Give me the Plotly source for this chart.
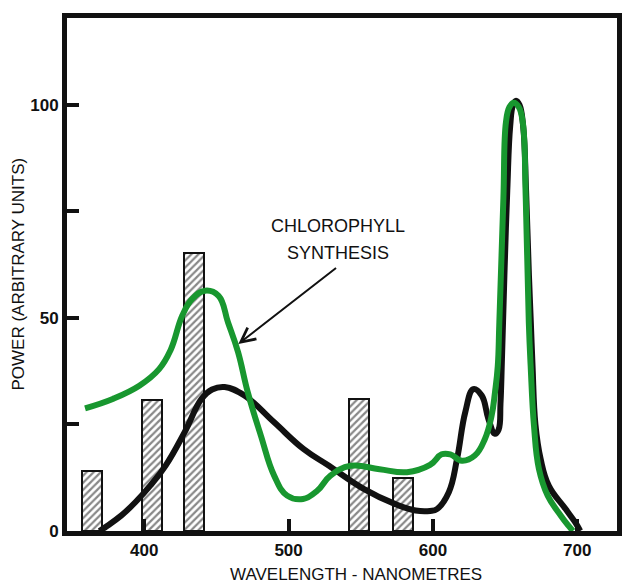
import plotly.graph_objects as go

# Hatched bars (mercury lines)
bar_wl = [364, 405.5, 434.3, 549, 579.5]
bar_power = [14, 30.8, 65.2, 31, 12.5]

# Chlorophyll synthesis curve (green)
green_wl = [359, 378.2, 396.6, 410.3, 418.3, 426.3, 433.2, 442.3,
            451.5, 458, 465, 471.7, 480.8, 490, 499, 510, 520, 529, 543, 563, 582, 598,
            606, 612, 620, 629, 636, 640.6, 643, 644.9, 646, 648.8, 650.6, 653, 656,
            659.5, 662.2, 664.3, 666.4, 667.7, 670, 673.4, 679.5, 688.6, 694, 697]
green_power = [28.8, 31, 34.1, 38, 42.5, 50.5, 54.5, 56.4,
               55.2, 49, 42, 32.6, 22.4, 13, 8.3, 7.5, 9.5, 13, 15.3, 14.5, 13.8, 15.5,
               18, 18, 16.5, 17.7, 21.6, 27, 32.6, 38.7, 49, 78, 96, 99.5, 100.5,
               99.5, 96, 78, 49, 38.7, 24.7, 14.6, 8.3, 3.6, 1.2, 0]

# Lamp spectrum (black)
black_wl = [369, 373.5, 384, 394, 404, 414.7, 428, 439.7, 447, 455.7, 469.4, 490, 510.5, 528,
            552, 574, 588, 598, 603, 611, 616.7, 622.4, 628, 633.8, 638.4, 643,
            645.5, 646.8, 647.8, 649.5, 651.5, 653.5, 655.5, 657.6, 660, 662.5,
            664.5, 666.5, 667.8, 669, 671, 674.6, 680.3, 691.8, 698.6, 702]
black_power = [0, 1, 3.6, 6.8, 10.6, 15.3, 23.2, 31, 33.2, 33.8, 31.8, 25.5, 19.2, 15.3,
               9.9, 6.3, 4.8, 4.7, 5.2, 9.1, 16.9, 27.9, 33.3, 31.8, 26.3, 22.8,
               23.8, 30, 40.4, 60, 80, 95, 100, 101, 100, 95,
               80, 60, 49, 38.7, 25, 16.9, 10.6, 5.2, 2, 0]

x_ticks = [400, 500, 600, 700]
y_ticks = [0, 25, 50, 75, 100]
y_tick_labels = ["0", "", "50", "", "100"]

GREEN = "#18972f"
BLACK = "#111111"

fig = go.Figure()
fig.add_trace(go.Bar(
    x=bar_wl, y=bar_power, width=14,
    marker=dict(color="white",
                line=dict(color=BLACK, width=2),
                pattern=dict(shape="/", fgcolor=BLACK, bgcolor="white",
                             size=5, solidity=0.45)),
    showlegend=False, hoverinfo="skip"))
fig.add_trace(go.Scatter(
    x=black_wl, y=black_power, mode="lines",
    line=dict(color=BLACK, width=6, shape="spline", smoothing=1.2),
    showlegend=False))
fig.add_trace(go.Scatter(
    x=green_wl, y=green_power, mode="lines",
    line=dict(color=GREEN, width=6, shape="spline", smoothing=1.2),
    showlegend=False))

tick_font = dict(family="Liberation Sans Narrow, Arial Narrow, Liberation Sans, Arial",
                 size=17, color=BLACK, weight="bold")
title_font = dict(family="Liberation Sans, Arial, Helvetica", size=17, color=BLACK)

fig.update_layout(
    width=627, height=584,
    margin=dict(l=67, r=5, t=18, b=53),
    paper_bgcolor="white", plot_bgcolor="white",
    bargap=0,
    xaxis=dict(range=[346.5, 727.5], tickvals=x_ticks, ticks="inside", ticklen=12,
               tickwidth=4, tickcolor=BLACK, showgrid=False, zeroline=False,
               showline=True, linewidth=5, linecolor=BLACK, mirror=True,
               tickfont=tick_font),
    yaxis=dict(range=[0, 120.4], tickvals=y_ticks, ticktext=y_tick_labels,
               ticks="inside", ticklen=12, tickwidth=4, tickcolor=BLACK,
               showgrid=False, zeroline=False, showline=True, linewidth=5,
               linecolor=BLACK, mirror=True, tickfont=tick_font),
    annotations=[
        dict(text="WAVELENGTH - NANOMETRES", xref="paper", yref="paper",
             x=0.525, y=0, yshift=-43, showarrow=False, font=title_font,
             xanchor="center", yanchor="middle"),
        dict(text="POWER (ARBITRARY UNITS)", xref="paper", yref="paper",
             x=0, xshift=-49, y=0.5, textangle=-90, showarrow=False,
             font=title_font, xanchor="center", yanchor="middle"),
        dict(text="CHLOROPHYLL", x=534, y=71.5, xref="x", yref="y", showarrow=False,
             font=dict(family="Liberation Sans, Arial", size=18, color=BLACK)),
        dict(text="SYNTHESIS", x=534, y=65.3, xref="x", yref="y", showarrow=False,
             font=dict(family="Liberation Sans, Arial", size=18, color=BLACK)),
        dict(text="", x=465.2, y=43.9, ax=533.9, ay=62, xref="x", yref="y",
             axref="x", ayref="y", showarrow=True, arrowhead=5, arrowsize=1.4,
             arrowwidth=2, arrowcolor=BLACK),
    ],
)

fig.write_html("out.html", config={"displayModeBar": False},
               post_script="document.body.style.margin='0';document.body.style.overflow='hidden';")
